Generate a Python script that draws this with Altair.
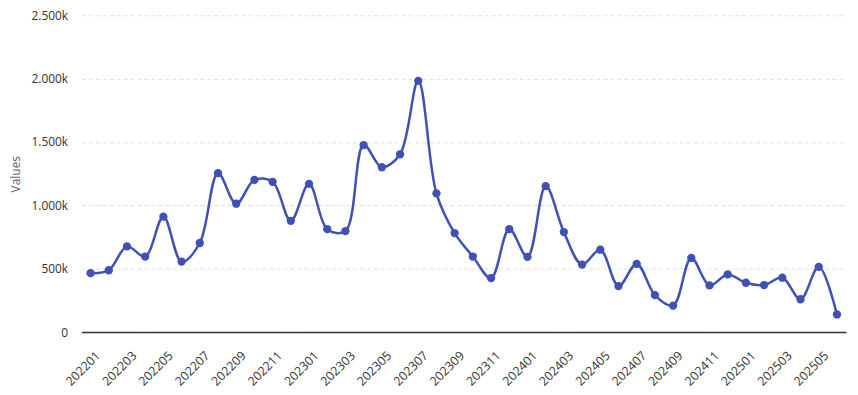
import altair as alt
import pandas as pd

months = [
    "202201", "202202", "202203", "202204", "202205", "202206", "202207", "202208",
    "202209", "202210", "202211", "202212", "202301", "202302", "202303", "202304",
    "202305", "202306", "202307", "202308", "202309", "202310", "202311", "202312",
    "202401", "202402", "202403", "202404", "202405", "202406", "202407", "202408",
    "202409", "202410", "202411", "202412", "202501", "202502", "202503", "202504",
    "202505", "202506",
]
values = [
    465000, 488000, 676000, 596000, 911000, 556000, 703000, 1254000,
    1013000, 1201000, 1186000, 878000, 1170000, 812000, 797000, 1476000,
    1301000, 1403000, 1983000, 1095000, 781000, 596000, 426000, 812000,
    593000, 1152000, 789000, 533000, 650000, 363000, 538000, 292000,
    209000, 585000, 368000, 455000, 389000, 371000, 429000, 259000,
    515000, 139000,
]
y_ticks = [0, 500000, 1000000, 1500000, 2000000, 2500000]

df = pd.DataFrame({"month": months, "value": values})
shown_labels = months[::2]

FONT = "Open Sans"
COLOR = "#3f51b5"

x = alt.X(
    "month:O",
    sort=months,
    scale=alt.Scale(type="point", padding=0.5),
    axis=alt.Axis(
        title=None,
        values=shown_labels,
        labelAngle=-45,
        labelAlign="right",
        labelBaseline="top",
        labelFontSize=12.5,
        labelColor="#333333",
        labelFont=FONT,
        labelPadding=17,
        labelOffset=3,
        ticks=False,
        domainColor="#333333",
        domainWidth=1.5,
        grid=False,
    ),
)
y = alt.Y(
    "value:Q",
    scale=alt.Scale(domain=[0, 2500000], nice=False),
    axis=alt.Axis(
        title="Values",
        titleFont=FONT,
        titleFontSize=12,
        titleFontWeight="normal",
        titleColor="#666666",
        titlePadding=9,
        values=y_ticks,
        labelExpr="datum.value == 0 ? '0' : replace(format(datum.value / 1000, ','), ',', '.') + 'k'",
        labelFont=FONT,
        labelFontSize=12,
        labelColor="#333333",
        labelPadding=14,
        ticks=False,
        domain=False,
        grid=True,
        gridColor="#e0e0e0",
        gridDash=[4, 3],
    ),
)

base = alt.Chart(df).encode(x=x, y=y)
line = base.mark_line(interpolate="catmull-rom", color=COLOR, strokeWidth=2.5)
points = base.mark_point(filled=True, color=COLOR, size=70, opacity=1)

chart = (
    (line + points)
    .properties(
        width=770,
        height=319,
        autosize=alt.AutoSizeParams(type="none"),
        padding={"left": 74, "top": 6, "right": 4, "bottom": 60},
    )
    .configure_view(stroke=None)
)

chart.save("out.html", embed_options={"renderer": "svg", "actions": False})
